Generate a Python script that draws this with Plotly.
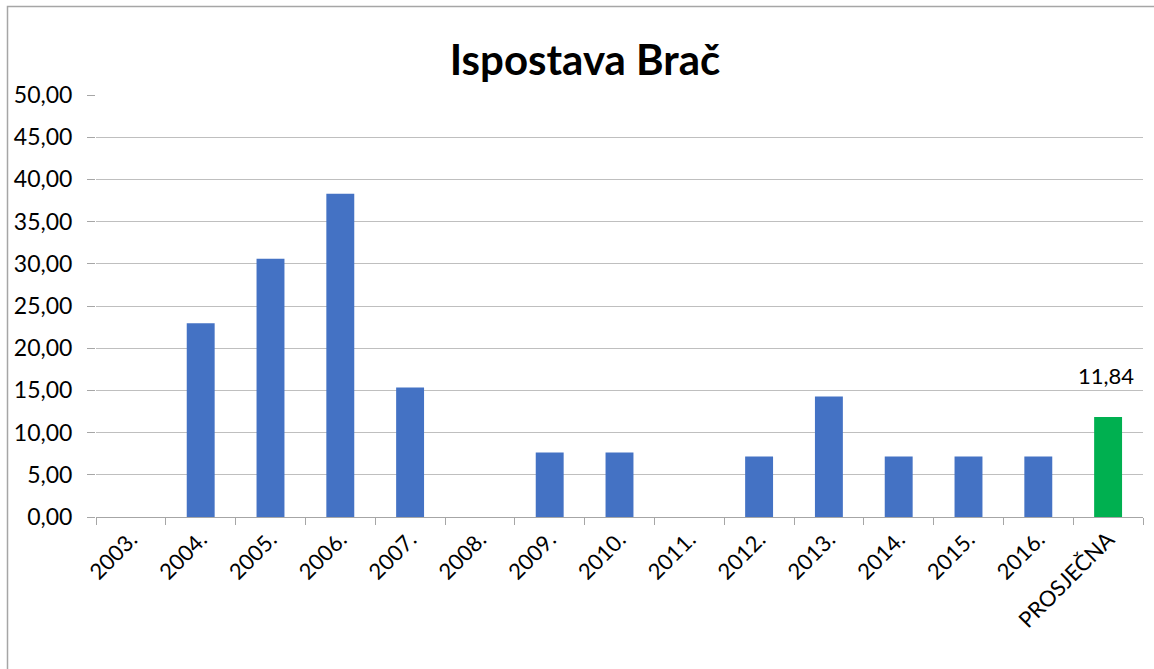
import plotly.graph_objects as go

categories = ["2003.", "2004.", "2005.", "2006.", "2007.", "2008.", "2009.", "2010.",
              "2011.", "2012.", "2013.", "2014.", "2015.", "2016.", "PROSJEČNA"]
values = [0, 22.95, 30.61, 38.29, 15.35, 0, 7.64, 7.64, 0, 7.17, 14.29, 7.17, 7.17, 7.17, 11.84]
avg_label = "11,84"
y_ticks = [0, 5, 10, 15, 20, 25, 30, 35, 40, 45, 50]

colors = ["#4472C4"] * (len(categories) - 1) + ["#00B050"]
FONT = "Lato, Carlito, 'Open Sans', sans-serif"

W, H = 1154, 669
L, R, T, B = 96, 11, 95, 152
pw, ph = W - L - R, H - T - B

fig = go.Figure(go.Bar(
    x=categories, y=values, marker=dict(color=colors, line=dict(width=0)),
    width=0.4, hoverinfo="skip",
))

fig.add_annotation(x=categories[-1], y=values[-1], text=avg_label, showarrow=False,
                   yshift=42, xshift=-2, font=dict(family=FONT, size=22, color="#000"))

# outer chart border (left and top edges visible)
fig.add_shape(type="rect", xref="paper", yref="paper",
              x0=(7.5 - L) / pw, x1=(W + 40 - L) / pw,
              y0=-(B + 40) / ph, y1=(H - B - 6.5) / ph,
              line=dict(color="#A6A6A6", width=1.5), layer="below")

fig.update_layout(
    width=W, height=H,
    margin=dict(l=L, r=R, t=T, b=B),
    paper_bgcolor="white", plot_bgcolor="white",
    separators=",.",
    showlegend=False,
    title=dict(text="<b>Ispostava Brač</b>", x=585 / W, xanchor="center", y=1 - 60 / H, yanchor="middle",
               font=dict(family=FONT, size=42, color="#000")),
    font=dict(family=FONT, color="#000"),
)
fig.update_xaxes(
    type="category", tickangle=-45, tickfont=dict(family=FONT, size=22, color="#000"),
    showline=True, linecolor="#A6A6A6", linewidth=1,
    ticks="outside", tickson="boundaries", ticklen=7, tickcolor="#A6A6A6",
    showgrid=False, fixedrange=True,
)
fig.update_yaxes(
    range=[0, 50], tickvals=y_ticks, tickformat=".2f",
    tickfont=dict(family=FONT, size=23, color="#000"),
    showgrid=True, gridcolor="#BFBFBF", gridwidth=1,
    ticks="outside", ticklen=8, tickcolor="#A6A6A6", showline=False,
    zeroline=False, ticklabelstandoff=10, fixedrange=True,
)

fig.write_html("out.html", config={"displayModeBar": False},
               post_script="document.body.style.margin='0';document.body.style.overflow='hidden';")
